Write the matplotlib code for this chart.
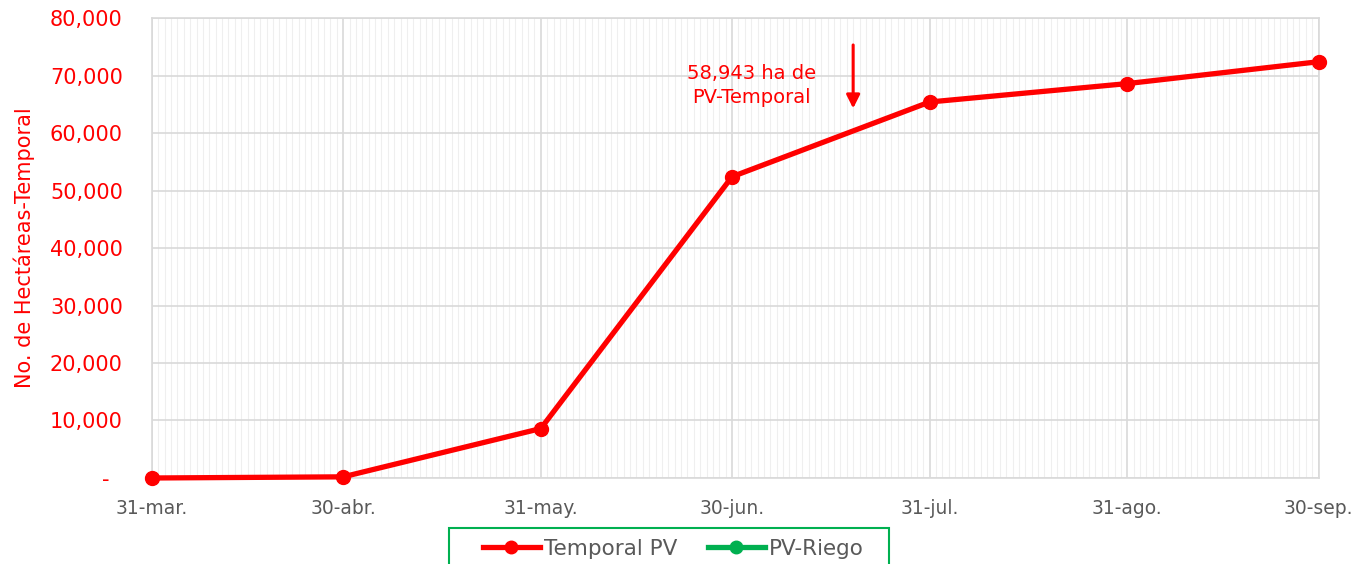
import datetime as dt

import matplotlib
matplotlib.use("Agg")
import matplotlib.dates as mdates
import matplotlib.ticker as mticker
from matplotlib import pyplot as plt
from matplotlib.lines import Line2D
from matplotlib.patches import Rectangle

RED = "#FF0000"
GREEN = "#00B050"
GREY = "#595959"

# Valores (hectareas acumuladas)
fechas = ["2023-03-31", "2023-04-30", "2023-05-31", "2023-06-30",
          "2023-07-31", "2023-08-31", "2023-09-30"]
etiquetas = ["31-mar.", "30-abr.", "31-may.", "30-jun.",
             "31-jul.", "31-ago.", "30-sep."]
temporal_pv = [0, 200, 8600, 52400, 65400, 68600, 72400]

nota = "58,943 ha de\nPV-Temporal"
nota_fecha = "2023-07-19"

plt.rcParams["font.family"] = ["DejaVu Sans"]

x = [dt.datetime.strptime(f, "%Y-%m-%d") for f in fechas]

fig = plt.figure(figsize=(13.59, 5.64), dpi=100)
ax = fig.add_axes([0.1118, 0.1525, 0.8584, 0.8155])

ax.plot(x, temporal_pv, color=RED, lw=3.8, marker="o", ms=10,
        clip_on=False, zorder=5, solid_capstyle="round")

ax.set_xlim(x[0], x[-1])
ax.set_ylim(0, 80000)
ax.set_xticks(x)
ax.set_xticklabels(etiquetas)
ax.xaxis.set_minor_locator(mdates.DayLocator())
ax.yaxis.set_major_locator(mticker.MultipleLocator(10000))
ax.yaxis.set_major_formatter(
    mticker.FuncFormatter(lambda v, p: "-  " if v == 0 else f"{int(v):,}"))

ax.grid(which="major", color="#D9D9D9", lw=1.2)
ax.grid(which="minor", axis="x", color="#EFEFEF", lw=0.8)
ax.set_axisbelow(True)
for s in ax.spines.values():
    s.set_color("#D9D9D9")
    s.set_linewidth(1.2)

ax.tick_params(axis="both", which="both", length=0)
ax.tick_params(axis="x", colors=GREY, labelsize=13.5, pad=15)
ax.tick_params(axis="y", colors=RED, labelsize=15, pad=21)
for lab in ax.get_yticklabels():
    lab.set_color(RED)

ax.set_ylabel("No. de Hectáreas-Temporal", color=RED, fontsize=15)
ax.yaxis.set_label_coords(-0.1, 0.5)

xa = dt.datetime.strptime(nota_fecha, "%Y-%m-%d")
ax.annotate("", xy=(xa, 63800), xytext=(xa, 75800),
            arrowprops=dict(arrowstyle="-|>", color=RED, lw=2.2,
                            mutation_scale=20))
ax.text(xa - dt.timedelta(days=16), 68300, nota, color=RED, fontsize=14,
        ha="center", va="center", linespacing=1.35)

# marco del legend (verde, cortado por el borde inferior)
fig.patches.append(Rectangle((449 / 1359, -0.05), 440 / 1359, 36 / 564 + 0.05,
                             transform=fig.transFigure, fill=False,
                             edgecolor=GREEN, lw=1.5))

handles = [
    Line2D([], [], color=RED, lw=3.8, marker="o", ms=9),
    Line2D([], [], color=GREEN, lw=3.8, marker="o", ms=9),
]
leg = fig.legend(handles, ["Temporal PV", "PV-Riego"], loc="center",
                 bbox_to_anchor=(673.5 / 1359, 1 - 549 / 564), ncol=2,
                 frameon=False, fontsize=15.5, handlelength=2.65,
                 columnspacing=1.4, handletextpad=0.2, borderpad=0,
                 borderaxespad=0)
for t in leg.get_texts():
    t.set_color(GREY)

fig.savefig("out.png", dpi=100)
